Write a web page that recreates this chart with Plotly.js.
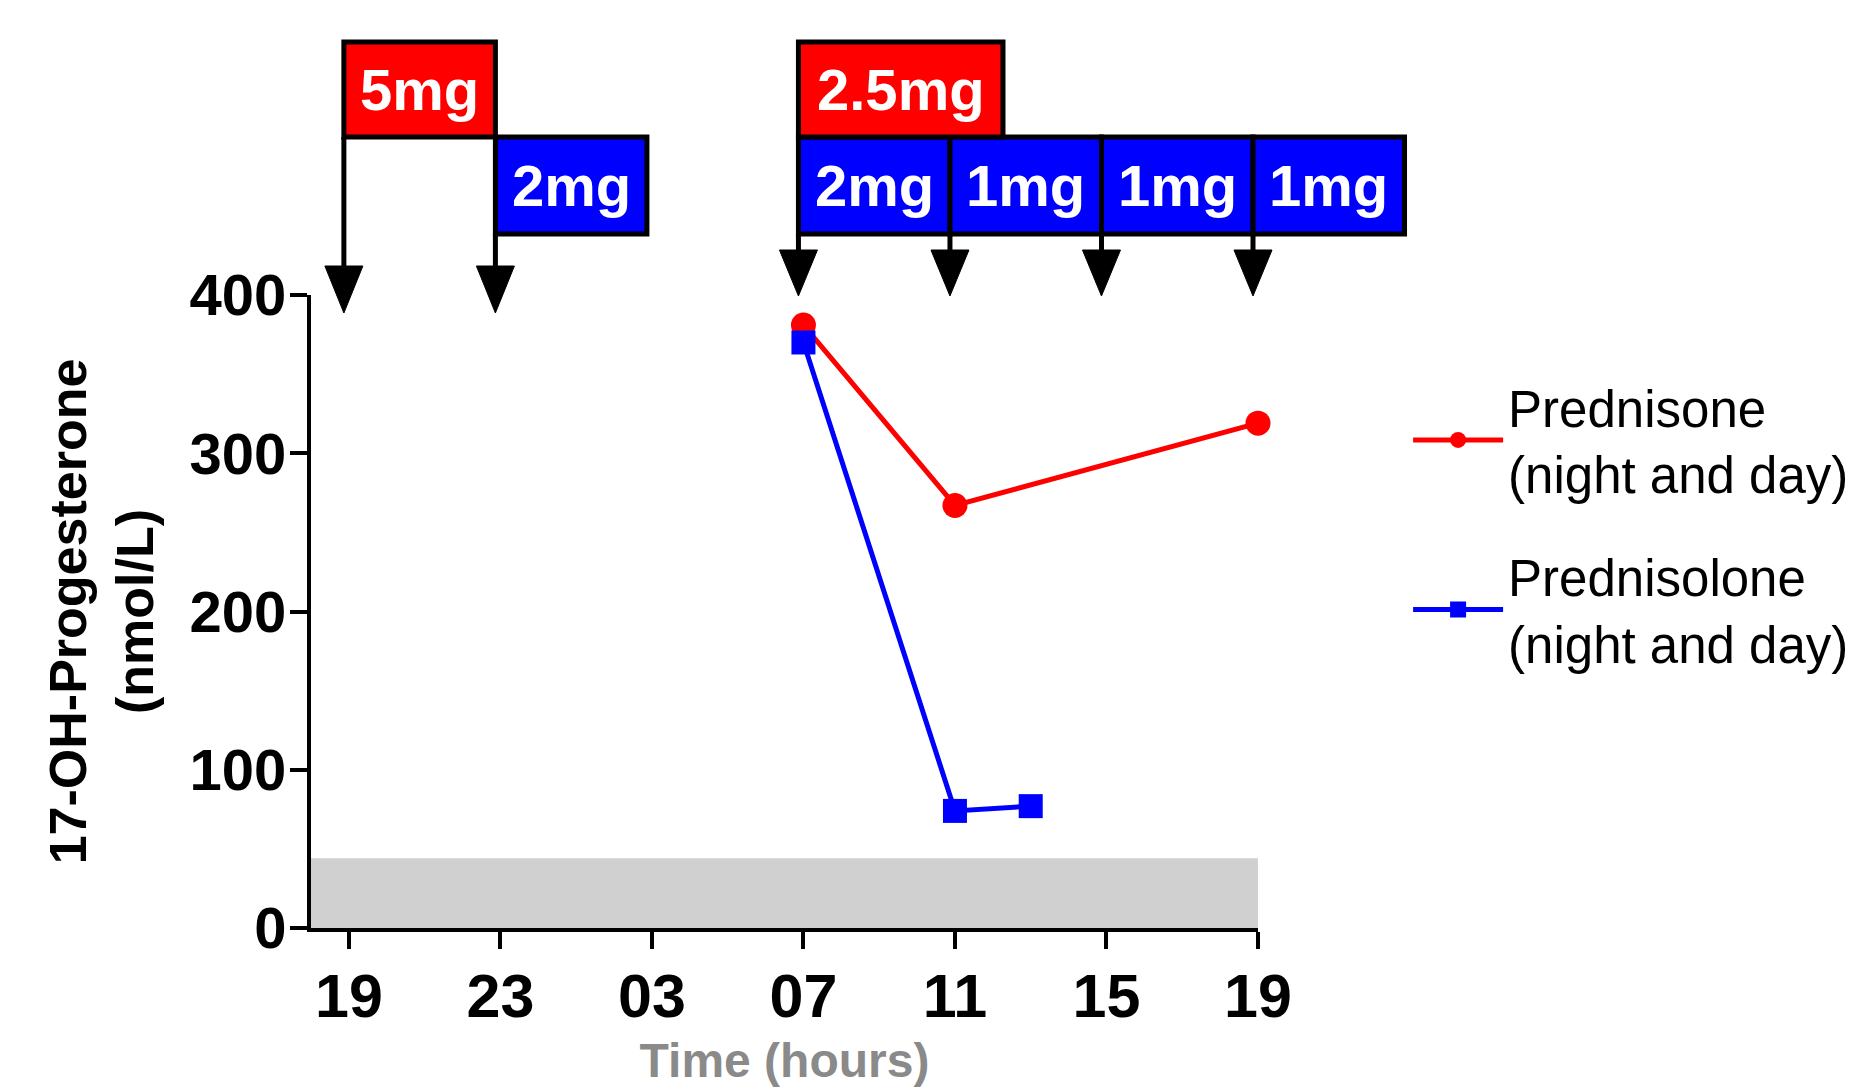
<!DOCTYPE html>
<html><head><meta charset="utf-8">
<script src="https://cdn.plot.ly/plotly-3.0.1.min.js"></script>
<style>html,body{margin:0;padding:0;background:#fff;} #chart{width:1853px;height:1087px;}</style>
</head><body><div id="chart"></div>
<script>
// ---------- data ----------
// time axis in hours after 19:00 on day 1
const tickHours = [0, 4, 8, 12, 16, 20, 24];
const tickLabels = ['19', '23', '03', '07', '11', '15', '19'];

const prednisoneName = 'Prednisone<br>(night and day)';
const prednisoneHours = [12, 16, 24];
const prednisoneValues = [381, 267, 319];

const prednisoloneName = 'Prednisolone<br>(night and day)';
const prednisoloneHours = [12, 16, 18];
const prednisoloneValues = [370, 74, 77];

const normalRange = [0, 44];   // shaded reference band (nmol/L)

const prednisoneDoseHours = [0, 12];
const prednisoneDoseLabels = ['5mg', '2.5mg'];
const prednisoloneDoseHours = [4, 12, 16, 20, 24];
const prednisoloneDoseLabels = ['2mg', '2mg', '1mg', '1mg', '1mg'];

// ---------- layout helpers ----------
const W = 1853, H = 1087;
const M = {l: 311, r: 595, t: 295, b: 159, autoexpand: false};
const PW = W - M.l - M.r, PH = H - M.t - M.b;
const X_RANGE = [-1, 24];
const Y_RANGE = [0, 400];
const FONT = 'Liberation Sans, Arial, Helvetica, sans-serif';
const DOSE_DX = -5; // px nudge of dose markers
function hx(h) { return (h - X_RANGE[0]) / (X_RANGE[1] - X_RANGE[0]) + DOSE_DX / PW; } // hour -> paper x
function pxX(p) { return p / PW; }                                        // pixel width -> paper x
function pyY(p) { return (H - M.b - p) / PH; }                             // page pixel y -> paper y

const RED_TOP = 42, RED_BOT = 137, BLUE_TOP = 137, BLUE_BOT = 234;
const prednisoneBoxHours = [4, 5.4];
const prednisoloneBoxHours = [4, 4, 4, 4, 4];
const BORDER = 5;

const shapes = [];
const annotations = [];

// shaded band
shapes.push({type: 'rect', xref: 'x', yref: 'y', x0: X_RANGE[0], x1: X_RANGE[1],
  y0: normalRange[0], y1: normalRange[1], fillcolor: '#d0d0d0', line: {width: 0}, layer: 'below'});

function doseBox(h, widthH, top, bot, fill, label) {
  shapes.push({type: 'rect', xref: 'paper', yref: 'paper', x0: hx(h), x1: hx(h + widthH),
    y0: pyY(bot), y1: pyY(top), fillcolor: fill, line: {color: '#000', width: BORDER}, layer: 'above'});
  annotations.push({xref: 'paper', yref: 'paper', x: hx(h + widthH / 2), y: pyY((top + bot) / 2),
    text: label, showarrow: false, xanchor: 'center', yanchor: 'middle',
    font: {family: FONT, size: 58, color: '#ffffff', weight: 'bold'}});
}
prednisoloneDoseHours.forEach((h, i) => doseBox(h, prednisoloneBoxHours[i], BLUE_TOP, BLUE_BOT, '#0000ff', prednisoloneDoseLabels[i]));
prednisoneDoseHours.forEach((h, i) => doseBox(h, prednisoneBoxHours[i], RED_TOP, RED_BOT, '#ff0000', prednisoneDoseLabels[i]));

// dosing arrows
const arrowHours = Array.from(new Set(prednisoneDoseHours.concat(prednisoloneDoseHours))).sort((a, b) => a - b);
arrowHours.forEach(h => {
  const night = h < 8;
  const start = (h === 0) ? RED_BOT : BLUE_BOT;
  const triTop = night ? 266 : 250;
  const tip = night ? 313 : 296;
  shapes.push({type: 'line', xref: 'paper', yref: 'paper', x0: hx(h), x1: hx(h),
    y0: pyY(start), y1: pyY(triTop + 2), line: {color: '#000', width: BORDER}});
  const hw = pxX(19);
  shapes.push({type: 'path', xref: 'paper', yref: 'paper',
    path: `M ${hx(h) - hw},${pyY(triTop)} L ${hx(h) + hw},${pyY(triTop)} L ${hx(h)},${pyY(tip)} Z`,
    fillcolor: '#000', line: {color: '#000', width: 1}});
});

const traces = [
  {x: prednisoneHours, y: prednisoneValues, name: prednisoneName, type: 'scatter', mode: 'lines+markers',
   line: {color: '#ff0000', width: 5}, marker: {symbol: 'circle', size: 25, color: '#ff0000'},
   legendgroup: 'a', cliponaxis: false},
  {x: prednisoloneHours, y: prednisoloneValues, name: prednisoloneName, type: 'scatter', mode: 'lines+markers',
   line: {color: '#0000ff', width: 5}, marker: {symbol: 'square', size: 24, color: '#0000ff'},
   legendgroup: 'b', cliponaxis: false}
];

const layout = {
  width: W, height: H, margin: M,
  paper_bgcolor: '#ffffff', plot_bgcolor: '#ffffff',
  font: {family: FONT, color: '#000'},
  showlegend: true,
  legend: {x: 1.1585, y: 0.886, xanchor: 'left', yanchor: 'top', bgcolor: 'rgba(0,0,0,0)',
    font: {family: FONT, size: 51, color: '#000'}, tracegroupgap: 34, itemwidth: 90},
  xaxis: {range: X_RANGE, tickmode: 'array', tickvals: tickHours, ticktext: tickLabels,
    ticks: 'outside', ticklen: 17, tickwidth: 4, tickcolor: '#000',
    showline: true, linewidth: 4, linecolor: '#000', showgrid: false, zeroline: false,
    tickfont: {family: FONT, size: 61, color: '#000', weight: 'bold'}, ticklabelstandoff: -5,
    title: {text: 'Time (hours)', font: {family: FONT, size: 48, color: '#8a8a8a', weight: 'bold'}, standoff: 23},
    fixedrange: true},
  yaxis: {range: Y_RANGE, tickmode: 'array', tickvals: [0, 100, 200, 300, 400],
    ticks: 'outside', ticklen: 17, tickwidth: 4, tickcolor: '#000',
    showline: true, linewidth: 4, linecolor: '#000', showgrid: false, zeroline: false,
    tickfont: {family: FONT, size: 58, color: '#000', weight: 'bold'}, ticklabelstandoff: -8,
    title: {text: '17-OH-Progesterone<br>(nmol/L)', font: {family: FONT, size: 52, color: '#000', weight: 'bold'}, standoff: 20},
    fixedrange: true},
  shapes: shapes,
  annotations: annotations
};

Plotly.newPlot('chart', traces, layout, {displayModeBar: false, staticPlot: true});
</script>
</body></html>
